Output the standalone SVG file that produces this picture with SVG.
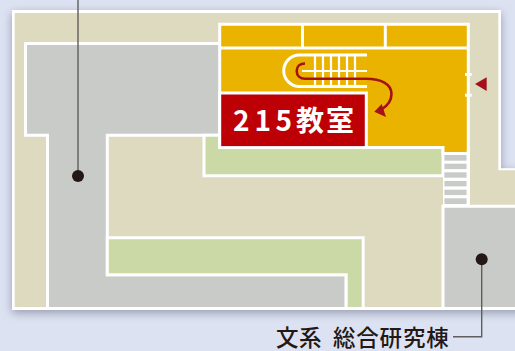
<svg xmlns="http://www.w3.org/2000/svg" width="515" height="351" viewBox="0 0 515 351">
<defs>
<filter id="sh" x="-10%" y="-10%" width="120%" height="125%"><feDropShadow dx="0" dy="3" stdDeviation="5" flood-color="#7d8298" flood-opacity="0.75"/></filter>
</defs>
<style>
.z{stroke:#fff;stroke-width:3;stroke-linejoin:miter}
.beige{fill:#dddac0}.gray{fill:#c9cbc9}.green{fill:#cad9a5}.orange{fill:#eab300}
.w{stroke:#fff;fill:none;stroke-width:3}
.r{stroke:#fff;fill:none;stroke-width:2.2}
.bar{fill:#c9cbc9}
.lead{fill:none;stroke:#5f5d5d;stroke-width:1.4}
.dot{fill:#231815}
.t{font-family:"Noto Sans CJK JP","Noto Sans",sans-serif}
</style>
<rect width="515" height="351" fill="#dde2f2"/>
<g id="building">
<polygon points="12,10 501,10 501,168.3 530,168.3 530,310 12,310" fill="#fff" filter="url(#sh)"/>
<polygon class="beige" points="14.7,13 498.3,13 498.3,170.3 515,170.3 515,307 14.7,307"/>
</g>
<g id="corridor-left">
<polygon class="gray z" points="25.5,43.5 225,43.5 225,135.3 107.3,135.3 107.3,274.8 346.2,274.8 346.2,308.6 47.5,308.6 47.5,135.3 25.5,135.3"/>
</g>
<g id="green-upper">
<polygon class="green z" points="204,135.3 225,135.3 225,147.6 443,147.6 443,175.7 204,175.7"/>
</g>
<g id="green-lower">
<polygon class="green z" points="107.3,237.8 363.2,237.8 363.2,308.6 346.2,308.6 346.2,274.8 107.3,274.8"/>
</g>
<g id="sogo-kenkyuto">
<polygon class="gray z" points="443,206.2 525,206.2 525,308.6 443,308.6"/>
</g>
<g id="stair-south">
<rect x="443" y="147" width="27" height="59" fill="#fff"/>
<g class="bar">
<rect x="444.4" y="155" width="22.3" height="5.7"/>
<rect x="444.4" y="163.7" width="22.3" height="5.4"/>
<rect x="444.4" y="172.3" width="22.3" height="5.4"/>
<rect x="444.4" y="181" width="22.3" height="5.4"/>
<rect x="444.4" y="189.7" width="22.3" height="5.4"/>
<rect x="444.4" y="198.3" width="22.3" height="5.7"/>
</g>
</g>
<g id="orange-hall">
<polygon class="orange z" points="219.7,24.2 468.3,24.2 468.3,153.4 443,153.4 443,147.6 219.7,147.6"/>
<path class="w" d="M219.7 48H468.3M302.5 24.2V48M385.3 24.2V48"/>
<rect x="465" y="73" width="6.7" height="3" fill="#fff"/>
<rect x="465" y="93.7" width="6.7" height="3" fill="#fff"/>
<rect x="466.8" y="150" width="3" height="56" fill="#fff"/>
</g>
<g id="stairs">
<path class="w" d="M367 55H299.5A15.7 15.7 0 0 0 299.5 86.5H367"/>
<path class="r" d="M302 71H367M315 55V86.5M323 55V86.5M331 55V86.5M339 55V86.5M347 55V86.5M355 55V86.5"/>
<path d="M305 63.5C300 63.5 296.7 66.5 296.7 71C296.7 75.5 300 78.7 305 78.7H366C381 78.7 391.5 84 391.5 94C391.5 101 387 106 381.5 109.5" fill="none" stroke="#a5111b" stroke-width="2.6"/>
<polygon points="374.3,111.7 381.7,104 386,117" fill="#a5111b"/>
</g>
<g id="entrance-mark">
<polygon points="475,84 486.7,77.3 486.7,91" fill="#a5111b"/>
</g>
<g id="room-215">
<rect x="219.7" y="93" width="146.6" height="54.6" fill="#bd0006" stroke="#fff" stroke-width="3"/>
<text class="t" x="233 254.5 275.5 296 326" y="130.500" font-size="28" font-weight="700" fill="#fff">215教室</text>
</g>
<g id="connectors">
<path class="lead" d="M78 0V176"/>
<path class="lead" d="M481.7 259.3V336.7H453"/>
</g>
<g id="dots">
<circle class="dot" cx="78" cy="176" r="6"/>
<circle class="dot" cx="481.7" cy="259.3" r="6"/>
</g>
<g id="label-sogo">
<text class="t" x="276 299 322 333 356.3 379.6 402.9 426.2" y="346" font-size="22.5" font-weight="500" fill="#231815" xml:space="preserve">文系 総合研究棟</text>
</g>
</svg>
